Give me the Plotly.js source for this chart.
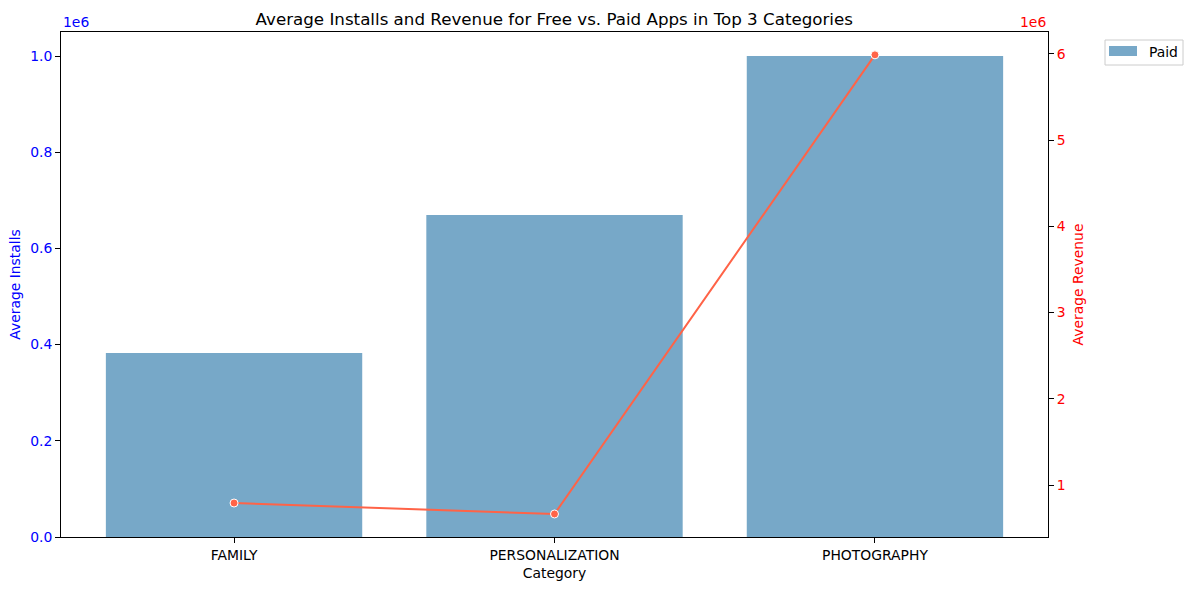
<!DOCTYPE html>
<html>
<head>
<meta charset="utf-8">
<script src="https://cdn.plot.ly/plotly-3.0.1.min.js"></script>
<style>html,body{margin:0;padding:0;background:#fff;}#chart{width:1192px;height:590px;}</style>
</head>
<body>
<div id="chart"></div>
<script>
const categories = ["FAMILY", "PERSONALIZATION", "PHOTOGRAPHY"];
const avgInstalls = [382500, 669400, 1000000];
const avgRevenue = [791000, 664000, 5990000];
const leftTickVals = [0, 200000, 400000, 600000, 800000, 1000000];
const leftTickText = ["0.0", "0.2", "0.4", "0.6", "0.8", "1.0"];
const rightTickVals = [1000000, 2000000, 3000000, 4000000, 5000000, 6000000];
const rightTickText = ["1", "2", "3", "4", "5", "6"];
const legendLabel = "Paid";

const font = "DejaVu Sans, sans-serif";
const barColor = "#77a8c8";
const FS = 13.9;

// plot area in pixels: x 61..1048, y 32..537
const PL = 61, PW = 987, PB = 537, PH = 505;
const px = v => (v - PL) / PW;
const py = v => (PB - v) / PH;

const traces = [
  {
    type: "bar",
    x: categories,
    y: avgInstalls,
    name: legendLabel,
    marker: {color: barColor},
    width: 0.8,
    yaxis: "y",
    showlegend: false,
    hoverinfo: "x+y"
  },
  {
    type: "scatter",
    mode: "lines+markers",
    x: categories,
    y: avgRevenue,
    yaxis: "y2",
    showlegend: false,
    line: {color: "#ff6347", width: 2},
    marker: {color: "#ff6347", size: 8, line: {color: "#ffffff", width: 1}}
  }
];

const layout = {
  width: 1192,
  height: 590,
  margin: {l: 61, r: 144, t: 32, b: 53},
  paper_bgcolor: "#ffffff",
  plot_bgcolor: "#ffffff",
  font: {family: font, size: FS, color: "#000"},
  title: {
    text: "Average Installs and Revenue for Free vs. Paid Apps in Top 3 Categories",
    font: {family: font, size: 16.7, color: "#000"},
    x: 0.465, xanchor: "center", y: 0.968, yanchor: "middle"
  },
  showlegend: false,
  bargap: 0.2,
  xaxis: {
    type: "category",
    range: [-0.54, 2.54],
    showline: true, linecolor: "#000", linewidth: 1, mirror: true,
    ticks: "outside", ticklen: 5, tickcolor: "#000",
    showgrid: false, zeroline: false,
    tickfont: {family: font, size: FS, color: "#000"},
    title: {text: "Category", font: {family: font, size: FS, color: "#000"}, standoff: 6}
  },
  yaxis: {
    range: [0, 1050000],
    tickvals: leftTickVals, ticktext: leftTickText,
    showline: true, linecolor: "#000", linewidth: 1,
    ticks: "outside", ticklen: 5, tickcolor: "#000",
    showgrid: false, zeroline: false,
    tickfont: {family: font, size: FS, color: "blue"},
    title: {text: "Average Installs", font: {family: font, size: FS, color: "blue"}, standoff: 6}
  },
  yaxis2: {
    overlaying: "y", side: "right",
    range: [397000, 6255000],
    tickvals: rightTickVals, ticktext: rightTickText,
    showline: true, linecolor: "#000", linewidth: 1,
    ticks: "outside", ticklen: 5, tickcolor: "#000",
    showgrid: false, zeroline: false,
    tickfont: {family: font, size: FS, color: "red"},
    title: {text: "Average Revenue", font: {family: font, size: FS, color: "red"}, standoff: 8}
  },
  shapes: [
    {type: "rect", xref: "paper", yref: "paper", x0: px(1105), x1: px(1183), y0: py(65), y1: py(40),
     line: {color: "#cccccc", width: 1}, fillcolor: "rgba(255,255,255,0.8)", layer: "above"},
    {type: "rect", xref: "paper", yref: "paper", x0: px(1109), x1: px(1137), y0: py(56), y1: py(46),
     line: {width: 0}, fillcolor: barColor, layer: "above"}
  ],
  annotations: [
    {text: "1e6", xref: "paper", yref: "paper", x: 0, y: 1, xanchor: "left", yanchor: "bottom", yshift: 0, showarrow: false, font: {family: font, size: FS, color: "blue"}},
    {text: "1e6", xref: "paper", yref: "paper", x: 1, y: 1, xanchor: "right", yanchor: "bottom", yshift: 0, showarrow: false, font: {family: font, size: FS, color: "red"}},
    {text: legendLabel, xref: "paper", yref: "paper", x: px(1147), y: py(51.5), xanchor: "left", yanchor: "middle", showarrow: false, font: {family: font, size: FS, color: "#000"}}
  ]
};

Plotly.newPlot("chart", traces, layout, {displayModeBar: false});
</script>
</body>
</html>
